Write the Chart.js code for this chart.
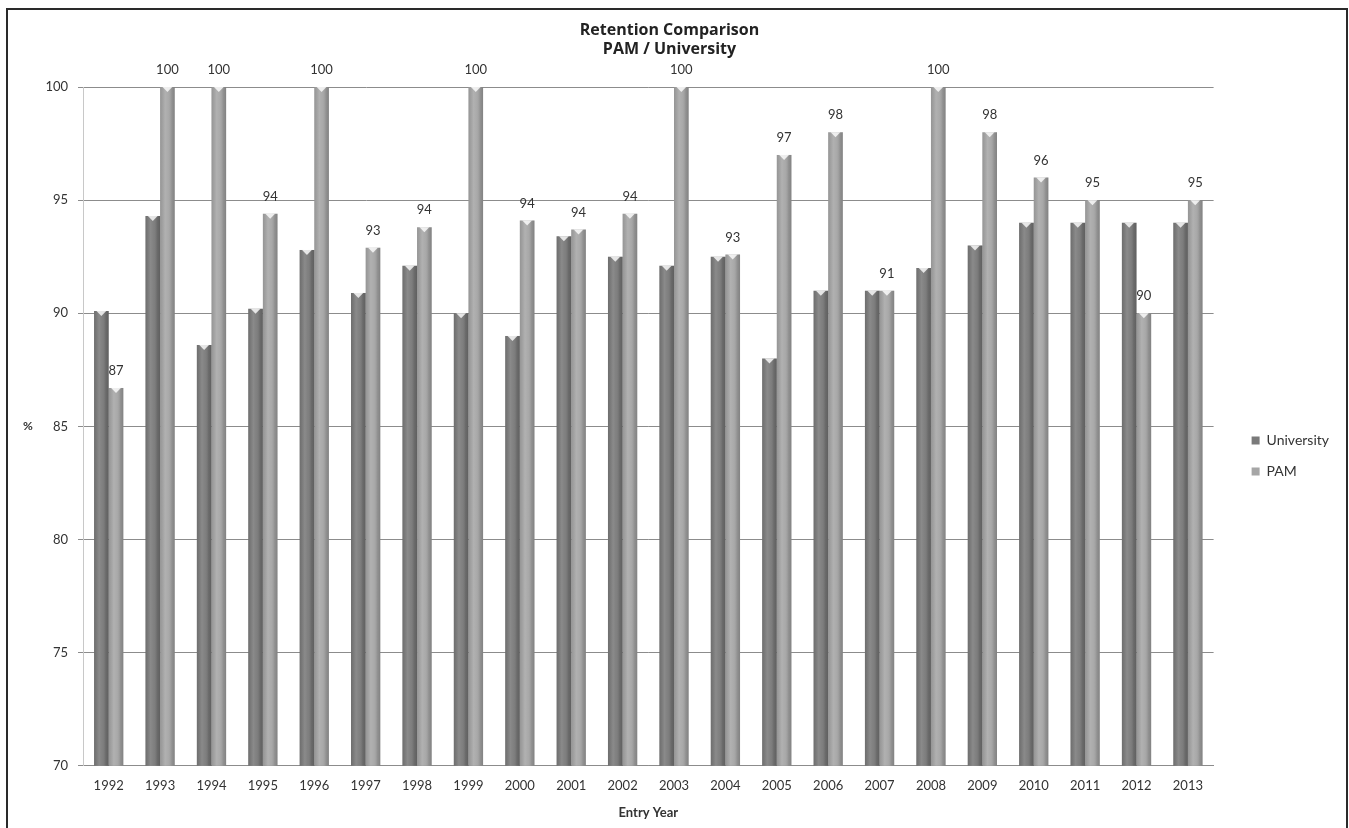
<!DOCTYPE html>
<html>
<head>
<meta charset="utf-8">
<title>Retention Comparison</title>
<script src="https://cdn.jsdelivr.net/npm/chart.js@4/dist/chart.umd.min.js"></script>
<style>
  html, body { margin: 0; padding: 0; background: #fff; overflow: hidden; }
  #wrap { position: relative; width: 1349px; height: 828px; }
  #frame {
    position: absolute; left: 6px; top: 8px; width: 1338px; height: 840px;
    border: 2px solid #2a2a2a; pointer-events: none;
  }
</style>
</head>
<body>
<div id="wrap">
  <canvas id="my-chart" width="1349" height="828"></canvas>
  <div id="frame"></div>
</div>
<script>
// data
const years = ['1992', '1993', '1994', '1995', '1996', '1997', '1998', '1999', '2000', '2001', '2002',
               '2003', '2004', '2005', '2006', '2007', '2008', '2009', '2010', '2011', '2012', '2013'];
const university = [90.1, 94.3, 88.6, 90.2, 92.8, 90.9, 92.1, 90.0, 89.0, 93.4, 92.5,
                    92.1, 92.5, 88.0, 91.0, 91.0, 92.0, 93.0, 94.0, 94.0, 94.0, 94.0];
const pam = [86.7, 100, 100, 94.4, 100, 92.9, 93.8, 100, 94.1, 93.7, 94.4,
             100, 92.6, 97.0, 98.0, 91.0, 100, 98.0, 96.0, 95.0, 90.0, 95.0];
const yTicks = [70, 75, 80, 85, 90, 95, 100];

const FONT = 'Lato, "Open Sans", sans-serif';

// shading + little caps on top of each bar (cylinder look)
const barShading = {
    id: 'barShading',
    afterDatasetsDraw(chart) {
        const ctx = chart.ctx;
        const area = chart.chartArea;
        ctx.save();
        chart.data.datasets.forEach((ds, i) => {
            const meta = chart.getDatasetMeta(i);
            meta.data.forEach(bar => {
                const left = bar.x - bar.width / 2;
                const right = bar.x + bar.width / 2;
                const bottom = Math.min(bar.base, area.bottom);
                const g = ctx.createLinearGradient(left, 0, right, 0);
                g.addColorStop(0, 'rgba(0,0,0,0.10)');
                g.addColorStop(0.35, 'rgba(255,255,255,0.12)');
                g.addColorStop(0.55, 'rgba(255,255,255,0.05)');
                g.addColorStop(0.8, 'rgba(0,0,0,0.12)');
                g.addColorStop(1, 'rgba(0,0,0,0.22)');
                ctx.fillStyle = g;
                ctx.fillRect(left, bar.y, bar.width, bottom - bar.y);
                // cap
                ctx.fillStyle = 'rgba(255,255,255,0.8)';
                ctx.beginPath();
                ctx.moveTo(bar.x - bar.width * 0.33, bar.y);
                ctx.lineTo(bar.x + bar.width * 0.33, bar.y);
                ctx.lineTo(bar.x, bar.y + 5);
                ctx.closePath();
                ctx.fill();
            });
        });
        ctx.restore();
    }
};

// value labels over the PAM bars
const pamLabels = {
    id: 'pamLabels',
    afterDatasetsDraw(chart) {
        const ctx = chart.ctx;
        const meta = chart.getDatasetMeta(1);
        ctx.save();
        ctx.font = '13px ' + FONT;
        ctx.fillStyle = '#333';
        ctx.textAlign = 'center';
        ctx.textBaseline = 'middle';
        meta.data.forEach((bar, i) => {
            ctx.fillText(Math.round(pam[i]), bar.x, bar.y - 17);
        });
        ctx.restore();
    }
};

// unrotated "%" axis title
const percentTitle = {
    id: 'percentTitle',
    afterDraw(chart) {
        const ctx = chart.ctx;
        const area = chart.chartArea;
        ctx.save();
        ctx.font = 'bold 12px ' + FONT;
        ctx.fillStyle = '#333';
        ctx.textAlign = 'center';
        ctx.textBaseline = 'middle';
        ctx.fillText('%', 28, (area.top + area.bottom) / 2);
        ctx.restore();
    }
};

const data = {
    labels: years,
    datasets: [
        {
            label: 'University',
            data: university,
            backgroundColor: '#7a7a7a',
            borderWidth: 0,
            categoryPercentage: 0.57,
            barPercentage: 1.0
        },
        {
            label: 'PAM',
            data: pam,
            backgroundColor: '#a6a6a6',
            borderWidth: 0,
            categoryPercentage: 0.57,
            barPercentage: 1.0
        }
    ]
};

const config = {
    type: 'bar',
    data,
    options: {
        responsive: false,
        animation: false,
        layout: {
            padding: { left: 0, top: 0, right: 10, bottom: 7 }
        },
        scales: {
            x: {
                grid: { display: false, drawTicks: false },
                border: { display: true, color: '#8c8c8c' },
                ticks: { color: '#333', font: { family: FONT, size: 13 }, padding: 12, maxRotation: 0 },
                title: {
                    display: true,
                    text: 'Entry Year',
                    color: '#333',
                    font: { family: FONT, size: 13, weight: 'bold' },
                    padding: { top: 0, bottom: 0 }
                }
            },
            y: {
                min: 70,
                max: 100,
                afterFit(scale) { scale.width = 83; },
                afterBuildTicks(scale) { scale.ticks = yTicks.map(v => ({ value: v })); },
                grid: { color: '#8c8c8c', tickLength: 5, drawTicks: true },
                border: { display: true, color: '#c8c8c8' },
                ticks: { color: '#333', font: { family: FONT, size: 13 }, padding: 10 }
            },
            // empty spacer between plot and legend
            gap: {
                type: 'linear',
                position: 'right',
                display: true,
                afterFit(scale) { scale.width = 21; },
                grid: { display: false, drawTicks: false },
                border: { display: false },
                ticks: { display: false }
            }
        },
        plugins: {
            title: {
                display: true,
                text: ['Retention Comparison', 'PAM / University'],
                color: '#222',
                font: { family: '"Open Sans", Lato, sans-serif', size: 16, weight: 'bold', lineHeight: '19px' },
                padding: { top: 21, bottom: 28 }
            },
            legend: {
                position: 'right',
                title: {
                    display: true,
                    text: '',
                    font: { size: 1 },
                    padding: { top: 90, bottom: 0 }
                },
                labels: {
                    boxWidth: 8,
                    boxHeight: 8,
                    padding: 17,
                    color: '#333',
                    font: { family: FONT, size: 14 }
                }
            },
            tooltip: { enabled: false }
        }
    },
    plugins: [barShading, pamLabels, percentTitle]
};

const myChart = new Chart(document.getElementById('my-chart'), config);
</script>
</body>
</html>
